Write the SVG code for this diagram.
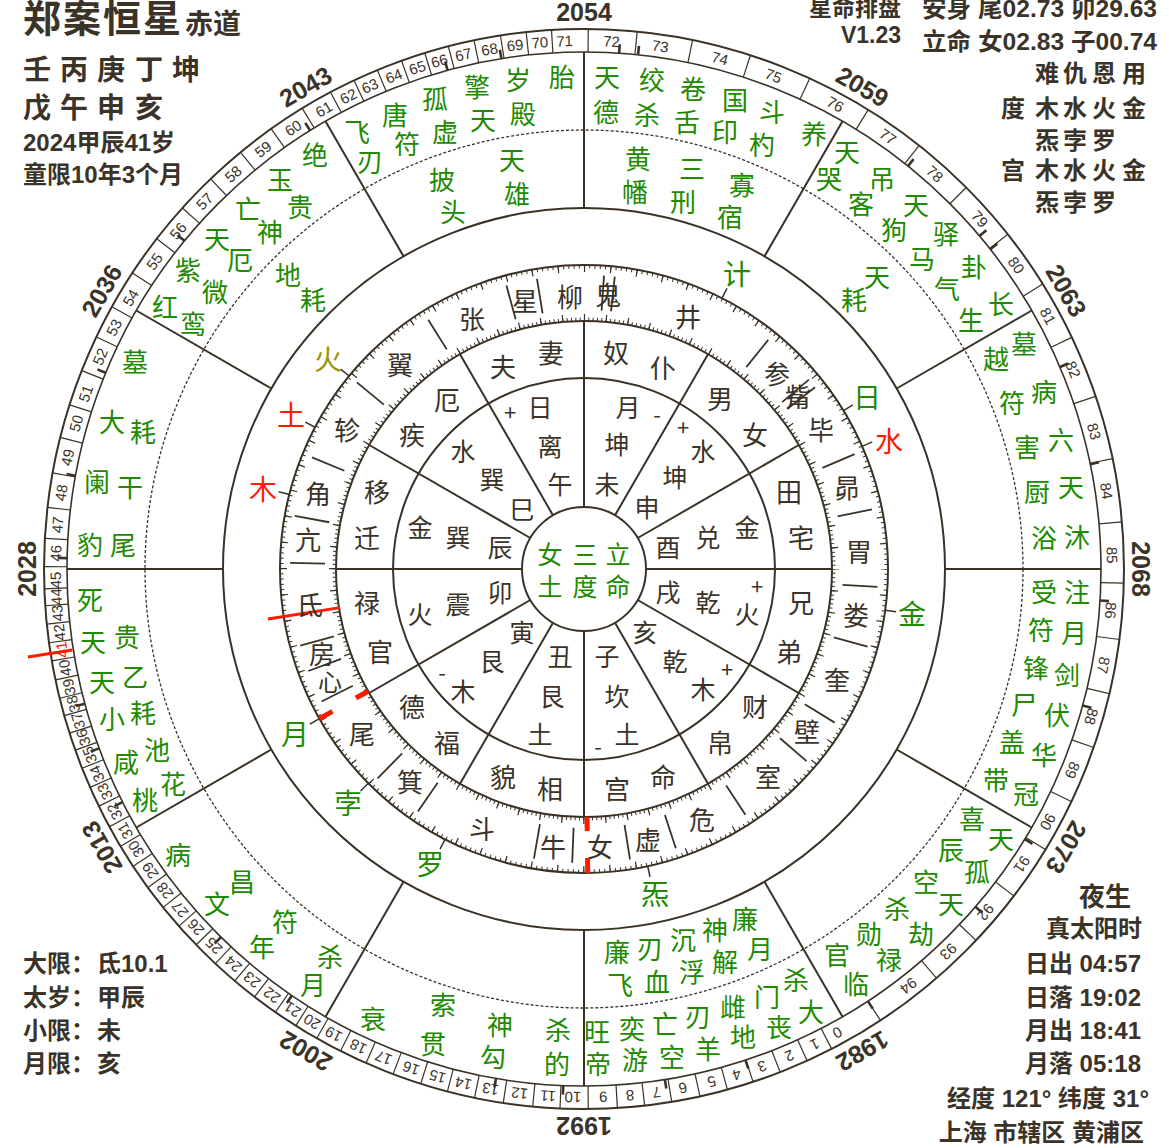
<svg xmlns="http://www.w3.org/2000/svg" xmlns:xlink="http://www.w3.org/1999/xlink" width="1169" height="1148" viewBox="0 0 1169 1148">
<style>
.cj{font-family:"Noto Sans CJK SC",sans-serif;text-anchor:middle;dominant-baseline:central}
.g{fill:#218a00;font-size:26px}
.k{fill:#3b3328;font-size:26px}
.s{fill:#3b3328;font-size:22px}
.n{font-family:"Liberation Sans",Arial,sans-serif;font-size:15px;fill:#3b3328;text-anchor:middle}
.yr{font-family:"Liberation Sans",Arial,sans-serif;font-size:25px;font-weight:bold;fill:#3b3328;text-anchor:middle}
.h{font-family:"Liberation Sans","Noto Sans CJK SC",sans-serif;font-weight:bold;fill:#3b3328;dominant-baseline:central}
.pl{font-size:28px}
</style>
<defs>
<line id="cb" x1="584" y1="52" x2="584" y2="29"/>
<line id="po" x1="584" y1="208" x2="584" y2="52"/>
<line id="pi" x1="584" y1="507" x2="584" y2="321"/>
<line id="mb" x1="584" y1="275" x2="584" y2="310"/>
<line id="mk" x1="584" y1="52" x2="584" y2="43"/>
<line id="ld" x1="584" y1="265" x2="584" y2="254"/>
</defs>
<rect width="1169" height="1148" fill="#fff"/>

<g id="rings" fill="none" stroke="#3a3226">
<circle cx="584" cy="569" r="540" stroke-width="2"/>
<circle cx="584" cy="569" r="517" stroke-width="1.6"/>
<circle cx="584" cy="569" r="439" stroke-width="1.3" stroke-dasharray="3 2"/>
<circle cx="584" cy="569" r="361" stroke-width="2"/>
<circle cx="584" cy="569" r="304" stroke-width="2"/>
<circle cx="584" cy="569" r="248" stroke-width="2"/>
<circle cx="584" cy="569" r="191" stroke-width="2"/>
<circle cx="584" cy="569" r="62" stroke-width="2"/>
<circle cx="584" cy="569" r="302.25" stroke-width="3.5" stroke-dasharray="1 4.275259" stroke-dashoffset="0.5"/>
<circle cx="584" cy="569" r="300.5" stroke-width="7" stroke-dasharray="1.2 25.02357" stroke-dashoffset="0.6"/>
<circle cx="584" cy="569" r="249.75" stroke-width="3.5" stroke-dasharray="1 3.358961" stroke-dashoffset="0.5"/>
<circle cx="584" cy="569" r="251.5" stroke-width="7" stroke-dasharray="1.2 20.74751" stroke-dashoffset="0.6"/>
</g>

<g id="connectors" stroke="#3a3226">
<g stroke-width="2">
<use href="#po"/><use href="#po" transform="rotate(30 584 569)"/><use href="#po" transform="rotate(60 584 569)"/><use href="#po" transform="rotate(90 584 569)"/><use href="#po" transform="rotate(120 584 569)"/><use href="#po" transform="rotate(150 584 569)"/><use href="#po" transform="rotate(180 584 569)"/><use href="#po" transform="rotate(210 584 569)"/><use href="#po" transform="rotate(240 584 569)"/><use href="#po" transform="rotate(270 584 569)"/><use href="#po" transform="rotate(300 584 569)"/><use href="#po" transform="rotate(330 584 569)"/>
<use href="#pi"/><use href="#pi" transform="rotate(30 584 569)"/><use href="#pi" transform="rotate(60 584 569)"/><use href="#pi" transform="rotate(90 584 569)"/><use href="#pi" transform="rotate(120 584 569)"/><use href="#pi" transform="rotate(150 584 569)"/><use href="#pi" transform="rotate(180 584 569)"/><use href="#pi" transform="rotate(210 584 569)"/><use href="#pi" transform="rotate(240 584 569)"/><use href="#pi" transform="rotate(270 584 569)"/><use href="#pi" transform="rotate(300 584 569)"/><use href="#pi" transform="rotate(330 584 569)"/>
</g>
<g stroke-width="1.8">
<use href="#mb" transform="rotate(328 584 569)"/><use href="#mb" transform="rotate(344.7 584 569)"/><use href="#mb" transform="rotate(350.8 584 569)"/><use href="#mb" transform="rotate(3.9 584 569)"/><use href="#mb" transform="rotate(6 584 569)"/><use href="#mb" transform="rotate(38.8 584 569)"/><use href="#mb" transform="rotate(49.9 584 569)"/><use href="#mb" transform="rotate(51.8 584 569)"/><use href="#mb" transform="rotate(67 584 569)"/><use href="#mb" transform="rotate(78.3 584 569)"/><use href="#mb" transform="rotate(93.5 584 569)"/><use href="#mb" transform="rotate(105.3 584 569)"/><use href="#mb" transform="rotate(121.5 584 569)"/><use href="#mb" transform="rotate(130.8 584 569)"/><use href="#mb" transform="rotate(146.7 584 569)"/><use href="#mb" transform="rotate(161.8 584 569)"/><use href="#mb" transform="rotate(171 584 569)"/><use href="#mb" transform="rotate(182.3 584 569)"/><use href="#mb" transform="rotate(189.8 584 569)"/><use href="#mb" transform="rotate(214.4 584 569)"/><use href="#mb" transform="rotate(224.6 584 569)"/><use href="#mb" transform="rotate(243.2 584 569)"/><use href="#mb" transform="rotate(249.7 584 569)"/><use href="#mb" transform="rotate(254.9 584 569)"/><use href="#mb" transform="rotate(271.2 584 569)"/><use href="#mb" transform="rotate(280.4 584 569)"/><use href="#mb" transform="rotate(292.3 584 569)"/><use href="#mb" transform="rotate(309.4 584 569)"/>
</g>
<g stroke-width="2.6">
<use href="#mk" transform="rotate(328 584 569)"/><use href="#mk" transform="rotate(344.7 584 569)"/><use href="#mk" transform="rotate(350.8 584 569)"/><use href="#mk" transform="rotate(3.9 584 569)"/><use href="#mk" transform="rotate(6 584 569)"/><use href="#mk" transform="rotate(38.8 584 569)"/><use href="#mk" transform="rotate(49.9 584 569)"/><use href="#mk" transform="rotate(51.8 584 569)"/><use href="#mk" transform="rotate(67 584 569)"/><use href="#mk" transform="rotate(78.3 584 569)"/><use href="#mk" transform="rotate(93.5 584 569)"/><use href="#mk" transform="rotate(105.3 584 569)"/><use href="#mk" transform="rotate(121.5 584 569)"/><use href="#mk" transform="rotate(130.8 584 569)"/><use href="#mk" transform="rotate(146.7 584 569)"/><use href="#mk" transform="rotate(161.8 584 569)"/><use href="#mk" transform="rotate(171 584 569)"/><use href="#mk" transform="rotate(182.3 584 569)"/><use href="#mk" transform="rotate(189.8 584 569)"/><use href="#mk" transform="rotate(214.4 584 569)"/><use href="#mk" transform="rotate(224.6 584 569)"/><use href="#mk" transform="rotate(243.2 584 569)"/><use href="#mk" transform="rotate(249.7 584 569)"/><use href="#mk" transform="rotate(254.9 584 569)"/><use href="#mk" transform="rotate(271.2 584 569)"/><use href="#mk" transform="rotate(280.4 584 569)"/><use href="#mk" transform="rotate(292.3 584 569)"/><use href="#mk" transform="rotate(309.4 584 569)"/>
</g>
<g stroke-width="1.5">
<use href="#ld" transform="rotate(27 584 569)"/><use href="#ld" transform="rotate(309.4 584 569)"/><use href="#ld" transform="rotate(297.8 584 569)"/><use href="#ld" transform="rotate(284.2 584 569)"/><use href="#ld" transform="rotate(240.5 584 569)"/><use href="#ld" transform="rotate(225.2 584 569)"/><use href="#ld" transform="rotate(207.2 584 569)"/><use href="#ld" transform="rotate(167.9 584 569)"/><use href="#ld" transform="rotate(97.8 584 569)"/><use href="#ld" transform="rotate(66.2 584 569)"/><use href="#ld" transform="rotate(58.6 584 569)"/>
</g>
<g stroke-width="1.2">
<use href="#cb" transform="rotate(146.7 584 569)"/><use href="#cb" transform="rotate(152.7 584 569)"/><use href="#cb" transform="rotate(155.6 584 569)"/><use href="#cb" transform="rotate(158.7 584 569)"/><use href="#cb" transform="rotate(161.75 584 569)"/><use href="#cb" transform="rotate(164.6 584 569)"/><use href="#cb" transform="rotate(167.6 584 569)"/><use href="#cb" transform="rotate(170.65 584 569)"/><use href="#cb" transform="rotate(173.55 584 569)"/><use href="#cb" transform="rotate(176.45 584 569)"/><use href="#cb" transform="rotate(179.55 584 569)"/><use href="#cb" transform="rotate(182.55 584 569)"/><use href="#cb" transform="rotate(185.45 584 569)"/><use href="#cb" transform="rotate(188.6 584 569)"/><use href="#cb" transform="rotate(191.7 584 569)"/><use href="#cb" transform="rotate(194.65 584 569)"/><use href="#cb" transform="rotate(197.6 584 569)"/><use href="#cb" transform="rotate(200.7 584 569)"/><use href="#cb" transform="rotate(203.8 584 569)"/><use href="#cb" transform="rotate(206.8 584 569)"/><use href="#cb" transform="rotate(209.65 584 569)"/><use href="#cb" transform="rotate(212.25 584 569)"/><use href="#cb" transform="rotate(214.85 584 569)"/><use href="#cb" transform="rotate(217.6 584 569)"/><use href="#cb" transform="rotate(220.3 584 569)"/><use href="#cb" transform="rotate(223.05 584 569)"/><use href="#cb" transform="rotate(225.9 584 569)"/><use href="#cb" transform="rotate(228.6 584 569)"/><use href="#cb" transform="rotate(231.2 584 569)"/><use href="#cb" transform="rotate(233.85 584 569)"/><use href="#cb" transform="rotate(236.6 584 569)"/><use href="#cb" transform="rotate(239.1 584 569)"/><use href="#cb" transform="rotate(241.5 584 569)"/><use href="#cb" transform="rotate(243.95 584 569)"/><use href="#cb" transform="rotate(246.15 584 569)"/><use href="#cb" transform="rotate(248.35 584 569)"/><use href="#cb" transform="rotate(250.4 584 569)"/><use href="#cb" transform="rotate(252.3 584 569)"/><use href="#cb" transform="rotate(254.25 584 569)"/><use href="#cb" transform="rotate(256.15 584 569)"/><use href="#cb" transform="rotate(258.15 584 569)"/><use href="#cb" transform="rotate(260.2 584 569)"/><use href="#cb" transform="rotate(262.15 584 569)"/><use href="#cb" transform="rotate(264.15 584 569)"/><use href="#cb" transform="rotate(266.1 584 569)"/><use href="#cb" transform="rotate(267.9 584 569)"/><use href="#cb" transform="rotate(270.25 584 569)"/><use href="#cb" transform="rotate(273.25 584 569)"/><use href="#cb" transform="rotate(276.55 584 569)"/><use href="#cb" transform="rotate(280.25 584 569)"/><use href="#cb" transform="rotate(284.1 584 569)"/><use href="#cb" transform="rotate(287.7 584 569)"/><use href="#cb" transform="rotate(291.55 584 569)"/><use href="#cb" transform="rotate(295.45 584 569)"/><use href="#cb" transform="rotate(299.05 584 569)"/><use href="#cb" transform="rotate(303.25 584 569)"/><use href="#cb" transform="rotate(307.7 584 569)"/><use href="#cb" transform="rotate(311.95 584 569)"/><use href="#cb" transform="rotate(316.25 584 569)"/><use href="#cb" transform="rotate(320.5 584 569)"/><use href="#cb" transform="rotate(324.6 584 569)"/><use href="#cb" transform="rotate(328.55 584 569)"/><use href="#cb" transform="rotate(332 584 569)"/><use href="#cb" transform="rotate(334.8 584 569)"/><use href="#cb" transform="rotate(337.5 584 569)"/><use href="#cb" transform="rotate(340.25 584 569)"/><use href="#cb" transform="rotate(342.85 584 569)"/><use href="#cb" transform="rotate(345.45 584 569)"/><use href="#cb" transform="rotate(348.25 584 569)"/><use href="#cb" transform="rotate(351.1 584 569)"/><use href="#cb" transform="rotate(353.85 584 569)"/><use href="#cb" transform="rotate(356.55 584 569)"/><use href="#cb" transform="rotate(0.45 584 569)"/><use href="#cb" transform="rotate(5.65 584 569)"/><use href="#cb" transform="rotate(11.6 584 569)"/><use href="#cb" transform="rotate(17.95 584 569)"/><use href="#cb" transform="rotate(24.7 584 569)"/><use href="#cb" transform="rotate(31.75 584 569)"/><use href="#cb" transform="rotate(38.35 584 569)"/><use href="#cb" transform="rotate(45.05 584 569)"/><use href="#cb" transform="rotate(51.7 584 569)"/><use href="#cb" transform="rotate(58.15 584 569)"/><use href="#cb" transform="rotate(64.6 584 569)"/><use href="#cb" transform="rotate(71.35 584 569)"/><use href="#cb" transform="rotate(78.2 584 569)"/><use href="#cb" transform="rotate(85 584 569)"/><use href="#cb" transform="rotate(91.5 584 569)"/><use href="#cb" transform="rotate(97.5 584 569)"/><use href="#cb" transform="rotate(103.35 584 569)"/><use href="#cb" transform="rotate(109.3 584 569)"/><use href="#cb" transform="rotate(115.5 584 569)"/><use href="#cb" transform="rotate(121.3 584 569)"/><use href="#cb" transform="rotate(127.25 584 569)"/><use href="#cb" transform="rotate(133.45 584 569)"/><use href="#cb" transform="rotate(139.25 584 569)"/>
</g>
<g id="red-marks" stroke="#ff1a00">
<line x1="584" y1="321" x2="584" y2="307" stroke-width="5" transform="rotate(179.3 584 569)"/>
<line x1="584" y1="280" x2="584" y2="265" stroke-width="5" transform="rotate(179.3 584 569)"/>
<line x1="584" y1="321" x2="584" y2="307" stroke-width="5" transform="rotate(240.5 584 569)"/>
<line x1="584" y1="280" x2="584" y2="265" stroke-width="5" transform="rotate(240.5 584 569)"/>
<line x1="584" y1="322" x2="584" y2="249" stroke-width="3" transform="rotate(261 584 569)"/>
<line x1="584" y1="51" x2="584" y2="6" stroke-width="3" transform="rotate(261 584 569)"/>
</g>
</g>

<g id="age-numbers" class="n">
<text x="584" y="46" transform="rotate(151.35 584 569)">0</text>
<text x="584" y="46" transform="rotate(154.1 584 569)">1</text>
<text x="584" y="46" transform="rotate(157.1 584 569)">2</text>
<text x="584" y="46" transform="rotate(160.3 584 569)">3</text>
<text x="584" y="46" transform="rotate(163.2 584 569)">4</text>
<text x="584" y="46" transform="rotate(166 584 569)">5</text>
<text x="584" y="46" transform="rotate(169.2 584 569)">6</text>
<text x="584" y="46" transform="rotate(172.1 584 569)">7</text>
<text x="584" y="46" transform="rotate(175 584 569)">8</text>
<text x="584" y="46" transform="rotate(177.9 584 569)">9</text>
<text x="584" y="46" transform="rotate(181.2 584 569)">10</text>
<text x="584" y="46" transform="rotate(183.9 584 569)">11</text>
<text x="584" y="46" transform="rotate(187 584 569)">12</text>
<text x="584" y="46" transform="rotate(190.2 584 569)">13</text>
<text x="584" y="46" transform="rotate(193.2 584 569)">14</text>
<text x="584" y="46" transform="rotate(196.1 584 569)">15</text>
<text x="584" y="46" transform="rotate(199.1 584 569)">16</text>
<text x="584" y="46" transform="rotate(202.3 584 569)">17</text>
<text x="584" y="46" transform="rotate(205.3 584 569)">18</text>
<text x="584" y="46" transform="rotate(208.3 584 569)">19</text>
<text x="584" y="46" transform="rotate(211 584 569)">20</text>
<text x="584" y="46" transform="rotate(213.5 584 569)">21</text>
<text x="584" y="46" transform="rotate(216.2 584 569)">22</text>
<text x="584" y="46" transform="rotate(218.96 584 569)">23</text>
<text x="584" y="46" transform="rotate(221.6 584 569)">24</text>
<text x="584" y="46" transform="rotate(224.5 584 569)">25</text>
<text x="584" y="46" transform="rotate(227.3 584 569)">26</text>
<text x="584" y="46" transform="rotate(229.9 584 569)">27</text>
<text x="584" y="46" transform="rotate(232.5 584 569)">28</text>
<text x="584" y="46" transform="rotate(235.2 584 569)">29</text>
<text x="584" y="46" transform="rotate(238 584 569)">30</text>
<text x="584" y="46" transform="rotate(240.3 584 569)">31</text>
<text x="584" y="46" transform="rotate(242.7 584 569)">32</text>
<text x="584" y="46" transform="rotate(245.1 584 569)">33</text>
<text x="584" y="46" transform="rotate(247.2 584 569)">34</text>
<text x="584" y="46" transform="rotate(249.4 584 569)">35</text>
<text x="584" y="46" transform="rotate(251.4 584 569)">36</text>
<text x="584" y="46" transform="rotate(253.3 584 569)">37</text>
<text x="584" y="46" transform="rotate(255.2 584 569)">38</text>
<text x="584" y="46" transform="rotate(257.1 584 569)">39</text>
<text x="584" y="46" transform="rotate(259.2 584 569)">40</text>
<text x="584" y="46" transform="rotate(261.2 584 569)" fill="#ff1a00">41</text>
<text x="584" y="46" transform="rotate(263.1 584 569)">42</text>
<text x="584" y="46" transform="rotate(265.2 584 569)">43</text>
<text x="584" y="46" transform="rotate(267 584 569)">44</text>
<text x="584" y="46" transform="rotate(268.8 584 569)">45</text>
<text x="584" y="46" transform="rotate(271.7 584 569)">46</text>
<text x="584" y="46" transform="rotate(274.8 584 569)">47</text>
<text x="584" y="46" transform="rotate(278.3 584 569)">48</text>
<text x="584" y="46" transform="rotate(282.2 584 569)">49</text>
<text x="584" y="46" transform="rotate(286 584 569)">50</text>
<text x="584" y="46" transform="rotate(289.4 584 569)">51</text>
<text x="584" y="46" transform="rotate(293.7 584 569)">52</text>
<text x="584" y="46" transform="rotate(297.2 584 569)">53</text>
<text x="584" y="46" transform="rotate(300.9 584 569)">54</text>
<text x="584" y="46" transform="rotate(305.6 584 569)">55</text>
<text x="584" y="46" transform="rotate(309.8 584 569)">56</text>
<text x="584" y="46" transform="rotate(314.1 584 569)">57</text>
<text x="584" y="46" transform="rotate(318.4 584 569)">58</text>
<text x="584" y="46" transform="rotate(322.6 584 569)">59</text>
<text x="584" y="46" transform="rotate(326.6 584 569)">60</text>
<text x="584" y="46" transform="rotate(330.5 584 569)">61</text>
<text x="584" y="46" transform="rotate(333.5 584 569)">62</text>
<text x="584" y="46" transform="rotate(336.1 584 569)">63</text>
<text x="584" y="46" transform="rotate(338.9 584 569)">64</text>
<text x="584" y="46" transform="rotate(341.6 584 569)">65</text>
<text x="584" y="46" transform="rotate(344.1 584 569)">66</text>
<text x="584" y="46" transform="rotate(346.8 584 569)">67</text>
<text x="584" y="46" transform="rotate(349.7 584 569)">68</text>
<text x="584" y="46" transform="rotate(352.5 584 569)">69</text>
<text x="584" y="46" transform="rotate(355.2 584 569)">70</text>
<text x="584" y="46" transform="rotate(357.9 584 569)">71</text>
<text x="584" y="46" transform="rotate(3 584 569)">72</text>
<text x="584" y="46" transform="rotate(8.3 584 569)">73</text>
<text x="584" y="46" transform="rotate(14.9 584 569)">74</text>
<text x="584" y="46" transform="rotate(21 584 569)">75</text>
<text x="584" y="46" transform="rotate(28.4 584 569)">76</text>
<text x="584" y="46" transform="rotate(35.1 584 569)">77</text>
<text x="584" y="46" transform="rotate(41.6 584 569)">78</text>
<text x="584" y="46" transform="rotate(48.5 584 569)">79</text>
<text x="584" y="46" transform="rotate(54.9 584 569)">80</text>
<text x="584" y="46" transform="rotate(61.4 584 569)">81</text>
<text x="584" y="46" transform="rotate(67.8 584 569)">82</text>
<text x="584" y="46" transform="rotate(74.9 584 569)">83</text>
<text x="584" y="46" transform="rotate(81.5 584 569)">84</text>
<text x="584" y="46" transform="rotate(88.5 584 569)">85</text>
<text x="584" y="46" transform="rotate(94.5 584 569)">86</text>
<text x="584" y="46" transform="rotate(100.5 584 569)">87</text>
<text x="584" y="46" transform="rotate(106.2 584 569)">88</text>
<text x="584" y="46" transform="rotate(112.4 584 569)">89</text>
<text x="584" y="46" transform="rotate(118.6 584 569)">90</text>
<text x="584" y="46" transform="rotate(124 584 569)">91</text>
<text x="584" y="46" transform="rotate(130.5 584 569)">92</text>
<text x="584" y="46" transform="rotate(136.4 584 569)">93</text>
<text x="584" y="46" transform="rotate(142.1 584 569)">94</text>
</g>

<g id="year-labels" class="yr">
<text x="584" y="21">2054</text>
<text x="584" y="21" transform="rotate(30 584 569)">2059</text>
<text x="584" y="21" transform="rotate(60 584 569)">2063</text>
<text x="584" y="21" transform="rotate(90 584 569)">2068</text>
<text x="584" y="21" transform="rotate(120 584 569)">2073</text>
<text x="584" y="21" transform="rotate(150 584 569)">1982</text>
<text x="584" y="21" transform="rotate(180 584 569)">1992</text>
<text x="584" y="21" transform="rotate(210 584 569)">2002</text>
<text x="584" y="21" transform="rotate(240 584 569)">2013</text>
<text x="584" y="21" transform="rotate(270 584 569)">2028</text>
<text x="584" y="21" transform="rotate(300 584 569)">2036</text>
<text x="584" y="21" transform="rotate(330 584 569)">2043</text>
</g>

<g id="palace-stars" class="cj g">
<text x="607" y="75">天</text><text x="606" y="110">德</text><text x="652" y="78">绞</text><text x="647" y="113">杀</text><text x="693" y="87">卷</text><text x="687" y="120">舌</text><text x="735" y="98">国</text><text x="725" y="130">印</text><text x="772" y="110">斗</text><text x="762" y="143">杓</text><text x="814" y="132">养</text>
<text x="638" y="157">黄</text><text x="635" y="190">幡</text><text x="692" y="167">三</text><text x="683" y="200">刑</text><text x="742" y="183">寡</text><text x="730" y="215">宿</text>
<text x="847" y="150">天</text><text x="829" y="177">哭</text><text x="882" y="177">吊</text><text x="861" y="202">客</text><text x="916" y="203">天</text><text x="894" y="228">狗</text><text x="946" y="232">驿</text><text x="922" y="257">马</text><text x="974" y="265">卦</text><text x="947" y="287">气</text><text x="1001" y="302">长</text><text x="971" y="318">生</text><text x="877" y="275">天</text><text x="854" y="298">耗</text>
<text x="1024" y="342">墓</text><text x="996" y="357">越</text><text x="1044" y="390">病</text><text x="1012" y="401">符</text><text x="1061" y="438">六</text><text x="1027" y="445">害</text><text x="1071" y="485">天</text><text x="1037" y="490">厨</text><text x="1077" y="535">沐</text><text x="1044" y="536">浴</text>
<text x="1044" y="590">受</text><text x="1077" y="590">注</text><text x="1041" y="628">符</text><text x="1074" y="631">月</text><text x="1036" y="666">锋</text><text x="1067" y="673">剑</text><text x="1024" y="703">尸</text><text x="1057" y="713">伏</text><text x="1012" y="740">盖</text><text x="1044" y="753">华</text><text x="996" y="778">带</text><text x="1026" y="792">冠</text>
<text x="972" y="817">喜</text><text x="1001" y="837">天</text><text x="951" y="848">辰</text><text x="977" y="870">孤</text><text x="926" y="880">空</text><text x="951" y="902">天</text><text x="897" y="907">杀</text><text x="921" y="932">劫</text><text x="869" y="932">勋</text><text x="889" y="958">禄</text><text x="837" y="953">官</text><text x="856" y="982">临</text>
<text x="796" y="978">杀</text><text x="811" y="1010">大</text><text x="767" y="995">门</text><text x="779" y="1025">丧</text><text x="733" y="1005">雌</text><text x="743" y="1035">地</text><text x="698" y="1015">刃</text><text x="708" y="1047">羊</text><text x="665" y="1022">亡</text><text x="672" y="1055">空</text><text x="632" y="1027">奕</text><text x="635" y="1058">游</text><text x="597" y="1030">旺</text><text x="598" y="1062">帝</text>
<text x="617" y="950">廉</text><text x="620" y="983">飞</text><text x="650" y="947">刃</text><text x="657" y="980">血</text><text x="683" y="938">沉</text><text x="692" y="970">浮</text><text x="715" y="928">神</text><text x="725" y="960">解</text><text x="745" y="917">廉</text><text x="760" y="947">月</text>
<text x="558" y="1028">杀</text><text x="557" y="1062">的</text><text x="500" y="1023">神</text><text x="493" y="1055">勾</text><text x="443" y="1003">索</text><text x="433" y="1042">贯</text><text x="373" y="1017">衰</text>
<text x="313" y="983">月</text><text x="330" y="955">杀</text><text x="262" y="945">年</text><text x="285" y="920">符</text><text x="217" y="902">文</text><text x="242" y="880">昌</text><text x="178" y="853">病</text>
<text x="145" y="798">桃</text><text x="173" y="782">花</text><text x="126" y="760">咸</text><text x="157" y="748">池</text><text x="112" y="717">小</text><text x="143" y="711">耗</text><text x="102" y="680">天</text><text x="135" y="675">乙</text><text x="93" y="640">天</text><text x="127" y="635">贵</text><text x="90" y="598">死</text>
<text x="90" y="543">豹</text><text x="123" y="543">尾</text><text x="97" y="480">阑</text><text x="130" y="485">干</text><text x="112" y="420">大</text><text x="143" y="430">耗</text><text x="135" y="360">墓</text>
<text x="165" y="305">红</text><text x="193" y="322">鸾</text><text x="188" y="268">紫</text><text x="215" y="290">微</text><text x="217" y="237">天</text><text x="240" y="258">厄</text><text x="248" y="207">亡</text><text x="270" y="230">神</text><text x="280" y="178">玉</text><text x="300" y="205">贵</text><text x="315" y="153">绝</text><text x="288" y="273">地</text><text x="313" y="298">耗</text>
<text x="357" y="130">飞</text><text x="370" y="160">刃</text><text x="395" y="113">唐</text><text x="407" y="142">符</text><text x="435" y="97">孤</text><text x="445" y="130">虚</text><text x="477" y="85">擎</text><text x="483" y="118">天</text><text x="518" y="78">岁</text><text x="523" y="112">殿</text><text x="562" y="75">胎</text>
<text x="442" y="178">披</text><text x="453" y="210">头</text><text x="512" y="158">天</text><text x="517" y="192">雄</text>
</g>

<g id="planets" class="cj pl">
<text x="737" y="273" fill="#218a00">计</text>
<text x="328" y="358" fill="#9c9400">火</text>
<text x="291" y="414" fill="#ff1a00">土</text>
<text x="263" y="488" fill="#ff1a00">木</text>
<text x="295" y="733" fill="#218a00">月</text>
<text x="348" y="802" fill="#218a00">孛</text>
<text x="430" y="863" fill="#218a00">罗</text>
<text x="655" y="893" fill="#218a00">炁</text>
<text x="912" y="613" fill="#218a00">金</text>
<text x="889" y="440" fill="#ff1a00">水</text>
<text x="867" y="396" fill="#218a00">日</text>
</g>

<g id="mansions" class="cj k">
<text x="472" y="317">张</text><text x="525" y="299">星</text><text x="570" y="295">柳</text><text x="608" y="293">鬼</text><text x="688" y="315">井</text><text x="777" y="372">参</text><text x="798" y="395">觜</text><text x="821" y="428">毕</text><text x="847" y="486">昴</text><text x="859" y="550">胃</text><text x="856" y="613">娄</text><text x="837" y="678">奎</text><text x="807" y="730">壁</text><text x="768" y="775">室</text><text x="702" y="818">危</text><text x="648" y="838">虚</text><text x="600" y="845">女</text><text x="553" y="845">牛</text><text x="482" y="827">斗</text><text x="410" y="780">箕</text><text x="362" y="732">尾</text><text x="330" y="680" style="font-size:24px">心</text><text x="322" y="652">房</text><text x="310" y="603">氐</text><text x="308" y="538">亢</text><text x="318" y="492">角</text><text x="347" y="428">轸</text><text x="400" y="363">翼</text>
</g>

<g id="palace-names" class="cj k">
<text x="503" y="365">夫</text><text x="551" y="351">妻</text><text x="616" y="351">奴</text><text x="663" y="366">仆</text><text x="720" y="397">男</text><text x="755" y="433">女</text><text x="789" y="490">田</text><text x="801" y="536">宅</text><text x="801" y="601">兄</text><text x="789" y="650">弟</text><text x="755" y="705">财</text><text x="720" y="741">帛</text><text x="663" y="775">命</text><text x="617" y="787">宫</text><text x="550" y="787">相</text><text x="503" y="775">貌</text><text x="447" y="741">福</text><text x="412" y="705">德</text><text x="380" y="650">官</text><text x="367" y="601">禄</text><text x="367" y="536">迁</text><text x="377" y="490">移</text><text x="412" y="433">疾</text><text x="447" y="398">厄</text>
</g>

<g id="inner-sectors" class="cj k" style="font-size:25px">
<text x="540" y="406">日</text><text x="550" y="445">离</text><text x="560" y="483">午</text>
<text x="628" y="406">月</text><text x="617" y="443">坤</text><text x="607" y="483">未</text>
<text x="703" y="450">水</text><text x="675" y="476">坤</text><text x="647" y="506">申</text>
<text x="747" y="526">金</text><text x="708" y="536">兑</text><text x="668" y="546">酉</text>
<text x="747" y="613">火</text><text x="708" y="601">乾</text><text x="668" y="591">戌</text>
<text x="645" y="631">亥</text><text x="675" y="660">乾</text><text x="703" y="688">木</text>
<text x="607" y="655">子</text><text x="617" y="695">坎</text><text x="627" y="733">土</text>
<text x="560" y="655">丑</text><text x="552" y="695">艮</text><text x="540" y="733">土</text>
<text x="522" y="631">寅</text><text x="492" y="660">艮</text><text x="463" y="690">木</text>
<text x="500" y="591">卯</text><text x="458" y="603">震</text><text x="420" y="613">火</text>
<text x="500" y="546">辰</text><text x="458" y="536">巽</text><text x="420" y="526">金</text>
<text x="522" y="508">巳</text><text x="492" y="478">巽</text><text x="463" y="450">水</text>
<g style="font-size:22px"><text x="510" y="411">+</text><text x="657" y="413">-</text><text x="683" y="426">+</text><text x="757" y="585">+</text><text x="727" y="668">+</text><text x="598" y="745">-</text><text x="442" y="671">-</text></g>
</g>

<g id="center" class="cj g" style="font-size:25px">
<text x="550" y="553">女</text><text x="585" y="553">三</text><text x="618" y="553">立</text>
<text x="550" y="585">土</text><text x="585" y="585">度</text><text x="618" y="585">命</text>
</g>

<g id="header-left" class="h">
<text y="19" style="font-size:38px"><tspan x="23">郑</tspan><tspan x="63">案</tspan><tspan x="103">恒</tspan><tspan x="143">星</tspan></text>
<text x="185" y="24" style="font-size:28px">赤道</text>
<text y="70" style="font-size:28px"><tspan x="23">壬</tspan><tspan x="60">丙</tspan><tspan x="97">庚</tspan><tspan x="135">丁</tspan><tspan x="172">坤</tspan></text>
<text y="108" style="font-size:28px"><tspan x="23">戊</tspan><tspan x="60">午</tspan><tspan x="97">申</tspan><tspan x="135">亥</tspan></text>
<text x="23" y="142" style="font-size:24px">2024甲辰41岁</text>
<text x="23" y="174" style="font-size:24px">童限10年3个月</text>
</g>

<g id="header-right" class="h">
<text x="901" y="8" style="font-size:23px" text-anchor="end">星命排盘</text>
<text x="901" y="35" style="font-size:23px" text-anchor="end">V1.23</text>
<text x="922" y="8" style="font-size:24px" textLength="235" lengthAdjust="spacingAndGlyphs">安身 尾02.73 卯29.63</text>
<text x="922" y="41" style="font-size:24px" textLength="235" lengthAdjust="spacingAndGlyphs">立命 女02.83 子00.74</text>
<g style="font-size:24px" text-anchor="middle">
<text y="73"><tspan x="1047">难</tspan><tspan x="1075">仇</tspan><tspan x="1104">恩</tspan><tspan x="1134">用</tspan></text>
<text y="108"><tspan x="1013">度</tspan><tspan x="1047">木</tspan><tspan x="1075">水</tspan><tspan x="1104">火</tspan><tspan x="1134">金</tspan></text>
<text y="140"><tspan x="1047">炁</tspan><tspan x="1075">孛</tspan><tspan x="1104">罗</tspan></text>
<text y="170"><tspan x="1013">宫</tspan><tspan x="1047">木</tspan><tspan x="1075">水</tspan><tspan x="1104">火</tspan><tspan x="1134">金</tspan></text>
<text y="202"><tspan x="1047">炁</tspan><tspan x="1075">孛</tspan><tspan x="1104">罗</tspan></text>
</g>
</g>

<g id="footer-left" class="h" style="font-size:24px">
<text x="23" y="963">大限：</text><text x="97" y="963">氐10.1</text>
<text x="23" y="997">太岁：</text><text x="97" y="997">甲辰</text>
<text x="23" y="1030">小限：</text><text x="97" y="1030">未</text>
<text x="23" y="1063">月限：</text><text x="97" y="1063">亥</text>
</g>

<g id="footer-right" class="h" text-anchor="end" style="font-size:24px">
<text x="1131" y="897" style="font-size:26px">夜生</text>
<text x="1142" y="928">真太阳时</text>
<text x="1141" y="963">日出 04:57</text>
<text x="1141" y="997">日落 19:02</text>
<text x="1141" y="1030">月出 18:41</text>
<text x="1141" y="1063">月落 05:18</text>
<text x="1149" y="1098">经度 121° 纬度 31°</text>
<text x="1144" y="1132">上海 市辖区 黄浦区</text>
</g>
</svg>
